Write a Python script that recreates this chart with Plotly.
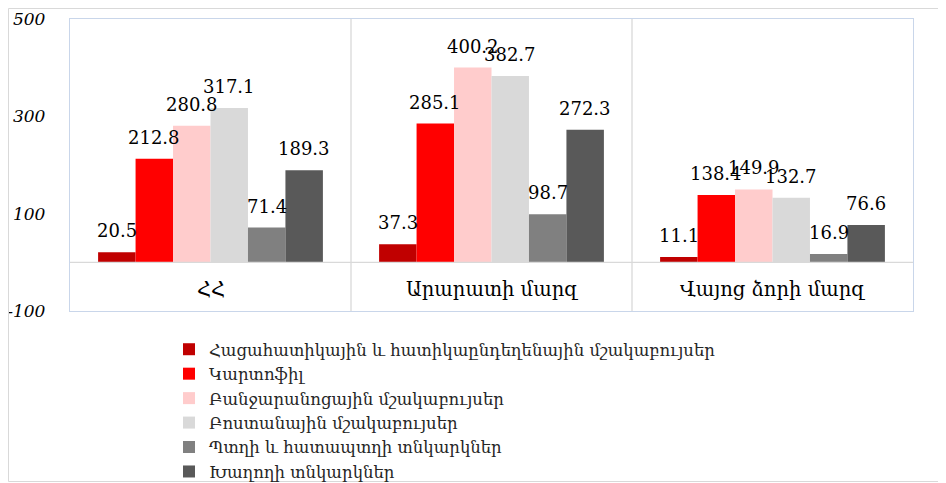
import plotly.graph_objects as go

# ---- data ----
categories = ["ՀՀ", "Արարատի մարզ", "Վայոց ձորի մարզ"]
series_names = [
    "Հացահատիկային և հատիկաընդեղենային մշակաբույսեր",
    "Կարտոֆիլ",
    "Բանջարանոցային մշակաբույսեր",
    "Բոստանային մշակաբույսեր",
    "Պտղի և հատապտղի տնկարկներ",
    "Խաղողի տնկարկներ",
]
grain = [20.5, 37.3, 11.1]
potato = [212.8, 285.1, 138.4]
vegetables = [280.8, 400.2, 149.9]
melons = [317.1, 382.7, 132.7]
fruit = [71.4, 98.7, 16.9]
grapes = [189.3, 272.3, 76.6]
series_values = [grain, potato, vegetables, melons, fruit, grapes]
colors = ["#C00000", "#FF0000", "#FFCCCC", "#D9D9D9", "#808080", "#595959"]
y_ticks = [-100, 100, 300, 500]
y_tick_labels = ["-100", "100", "300", "500"]

# the page body adds an 8px offset, so the figure is 8px smaller
W, H = 938, 475
ml, mr, mt, mb = 62, 33, 11, 172
SERIF = "DejaVu Serif"

fig = go.Figure()
xs = list(range(len(categories)))
for name, vals, col in zip(series_names, series_values, colors):
    fig.add_trace(go.Bar(x=xs, y=vals, name=name,
                         marker=dict(color=col, line=dict(width=0))))

bargap = 0.2
n = len(series_values)
bw = (1 - bargap) / n
annotations = []
for j, vals in enumerate(series_values):
    for i, v in enumerate(vals):
        annotations.append(dict(
            x=i - (1 - bargap) / 2 + bw * (j + 0.5), y=v, xref="x", yref="y",
            text=f"{v:.1f}", showarrow=False, yanchor="bottom", xanchor="center",
            yshift=9, font=dict(family=SERIF, size=18, color="#000000")))
for i, c in enumerate(categories):
    annotations.append(dict(
        x=i, y=-56, xref="x", yref="y", text=c, showarrow=False,
        font=dict(family=SERIF, size=19.5, color="#000000")))

shapes = []
for b in [0.5, 1.5]:
    shapes.append(dict(type="line", xref="x", yref="y", x0=b, x1=b, y0=-100, y1=500,
                       line=dict(color="#D9D9D9", width=1.3)))
shapes.append(dict(type="line", xref="paper", yref="y", x0=0, x1=1, y0=0, y1=0,
                   line=dict(color="#D9D9D9", width=1.3)))
pw, ph = W - ml - mr, H - mt - mb
shapes.append(dict(type="rect", xref="paper", yref="paper",
                   x0=(0.5 - ml) / pw, x1=(W - 1.5 - ml) / pw,
                   y0=(H - mb - (H - 1.5)) / ph, y1=(H - mb - 0.5) / ph,
                   line=dict(color="#D9D9D9", width=1)))

fig.update_layout(
    width=W, height=H,
    margin=dict(l=ml, r=mr, t=mt, b=mb, autoexpand=False),
    paper_bgcolor="white", plot_bgcolor="white",
    barmode="group", bargap=bargap, bargroupgap=0,
    showlegend=True,
    legend=dict(x=(161 - ml) / pw, y=-(324 - (H - mb)) / ph, xanchor="left", yanchor="top",
                font=dict(family=SERIF, size=16.5, color="#262626"),
                tracegroupgap=0, bgcolor="rgba(0,0,0,0)"),
    annotations=annotations,
    shapes=shapes,
)
fig.update_xaxes(range=[-0.5, 2.5], showticklabels=False, showgrid=False, zeroline=False,
                 showline=True, mirror=True, linecolor="#C9D6EA", linewidth=1.3, ticks="",
                 automargin=False)
fig.update_yaxes(range=[-100, 500], tickvals=y_ticks, ticktext=y_tick_labels,
                 showgrid=False, zeroline=False,
                 showline=True, mirror=True, linecolor="#C9D6EA", linewidth=1.3,
                 ticks="", ticklabelstandoff=20, automargin=False,
                 tickfont=dict(family=SERIF, size=17, color="#000000", style="italic"))

fig.write_html("out.html")
